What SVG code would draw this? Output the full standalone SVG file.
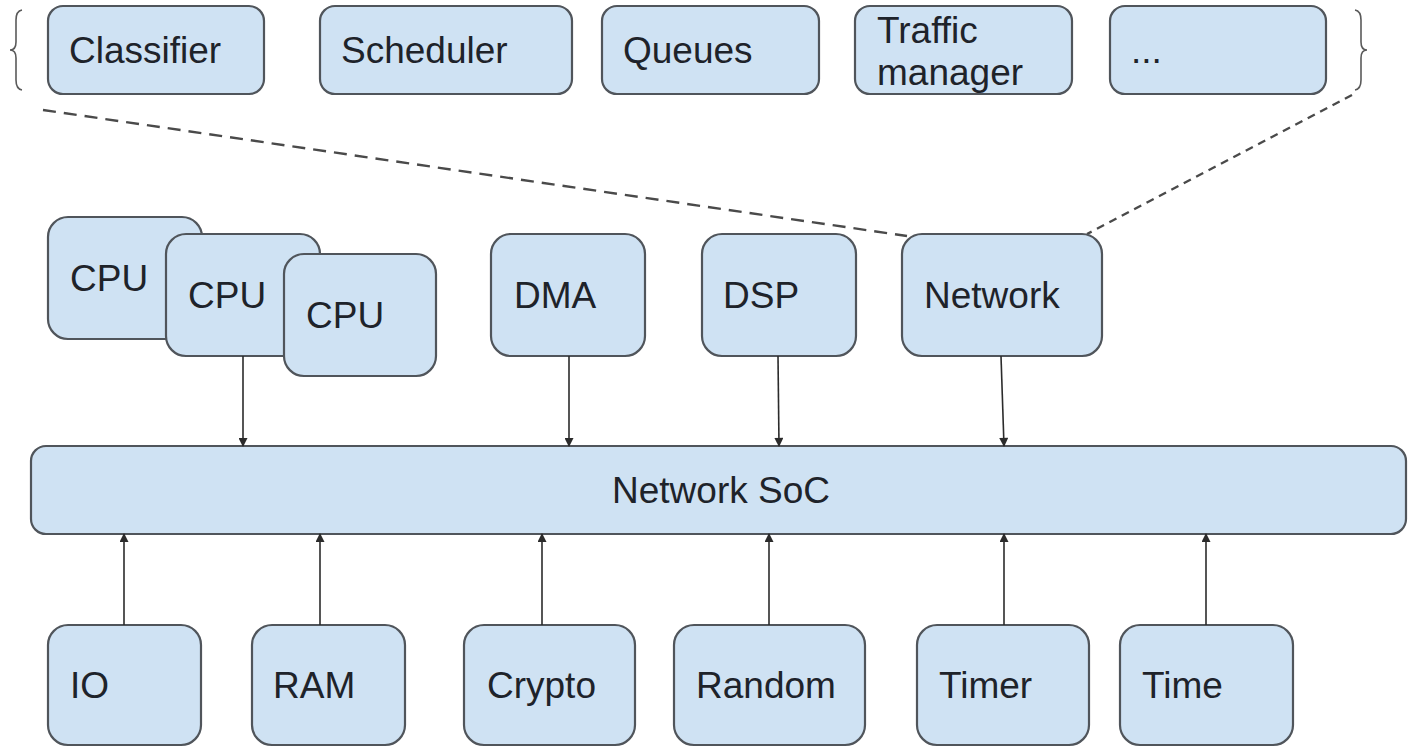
<svg xmlns="http://www.w3.org/2000/svg" width="1408" height="747" viewBox="0 0 1408 747">
  <defs>
    <style>
      .box { fill: #cfe2f3; stroke: #50555b; stroke-width: 2.2; }
      .lbl { font-family: "Liberation Sans", Arial, sans-serif; font-size: 37px; fill: #1e232a; }
      .link { stroke: #2b2b2b; stroke-width: 1.6; fill: none; marker-end: url(#arrow); }
      .dash { stroke: #4a4a4a; stroke-width: 2.4; fill: none; }
      .brace { stroke: #5a5a5a; stroke-width: 1.6; fill: none; }
    </style>
    <marker id="arrow" viewBox="0 0 10 10" refX="9" refY="5" markerWidth="11" markerHeight="9" markerUnits="userSpaceOnUse" orient="auto">
      <path d="M0,0 L10,5 L0,10 z" fill="#2b2b2b"/>
    </marker>
  </defs>

  <rect width="1408" height="747" fill="#ffffff"/>

  <!-- braces grouping the network sub-blocks -->
  <path class="brace" d="M22,10 Q16,11 16,20 L16,42 Q16,50 10,50 Q16,50 16,58 L16,80 Q16,89 22,90"/>
  <path class="brace" d="M1355,10 Q1361,11 1361,20 L1361,42 Q1361,50 1367,50 Q1361,50 1361,58 L1361,80 Q1361,89 1355,90"/>

  <!-- sub-blocks of the network unit -->
  <g id="classifier"><rect class="box" x="48" y="6" width="216" height="88" rx="15"/><text class="lbl" x="69" y="63">Classifier</text></g>
  <g id="scheduler"><rect class="box" x="320" y="6" width="252" height="88" rx="15"/><text class="lbl" x="341" y="63">Scheduler</text></g>
  <g id="queues"><rect class="box" x="602" y="6" width="217" height="88" rx="15"/><text class="lbl" x="623" y="63">Queues</text></g>
  <g id="traffic-manager"><rect class="box" x="855" y="6" width="217" height="88" rx="15"/><text class="lbl" x="877" y="43">Traffic</text><text class="lbl" x="877" y="85">manager</text></g>
  <g id="more"><rect class="box" x="1110" y="6" width="216" height="88" rx="15"/><text class="lbl" x="1131" y="63">...</text></g>

  <!-- dashed lines fanning out from the Network block -->
  <g id="zoom-lines">
    <line class="dash" x1="43" y1="110" x2="907" y2="236" stroke-dasharray="13 8"/>
    <line class="dash" x1="1352" y1="95" x2="1087" y2="234" stroke-dasharray="8 6"/>
  </g>

  <!-- processing units -->
  <g id="cpu1"><rect class="box" x="48" y="217" width="154" height="122" rx="20"/><text class="lbl" x="70" y="291">CPU</text></g>
  <g id="cpu2"><rect class="box" x="166" y="234" width="154" height="122" rx="20"/><text class="lbl" x="188" y="308">CPU</text></g>
  <g id="cpu3"><rect class="box" x="284" y="254" width="152" height="122" rx="20"/><text class="lbl" x="306" y="328">CPU</text></g>
  <g id="dma"><rect class="box" x="491" y="234" width="154" height="122" rx="20"/><text class="lbl" x="514" y="308">DMA</text></g>
  <g id="dsp"><rect class="box" x="702" y="234" width="154" height="122" rx="20"/><text class="lbl" x="723" y="308">DSP</text></g>
  <g id="network"><rect class="box" x="902" y="234" width="200" height="122" rx="20"/><text class="lbl" x="924" y="308">Network</text></g>

  <!-- system on chip bus -->
  <g id="soc"><rect class="box" x="31" y="446" width="1375" height="88" rx="15"/><text class="lbl" x="721" y="503" text-anchor="middle">Network SoC</text></g>

  <!-- peripherals -->
  <g id="io"><rect class="box" x="48" y="625" width="153" height="120" rx="20"/><text class="lbl" x="70" y="698">IO</text></g>
  <g id="ram"><rect class="box" x="252" y="625" width="153" height="120" rx="20"/><text class="lbl" x="273" y="698">RAM</text></g>
  <g id="crypto"><rect class="box" x="464" y="625" width="171" height="120" rx="20"/><text class="lbl" x="487" y="698">Crypto</text></g>
  <g id="random"><rect class="box" x="674" y="625" width="191" height="120" rx="20"/><text class="lbl" x="696" y="698">Random</text></g>
  <g id="timer"><rect class="box" x="917" y="625" width="172" height="120" rx="20"/><text class="lbl" x="939" y="698">Timer</text></g>
  <g id="time"><rect class="box" x="1120" y="625" width="173" height="120" rx="20"/><text class="lbl" x="1142" y="698">Time</text></g>

  <!-- connectors into the SoC -->
  <g id="connectors">
    <line class="link" x1="243" y1="356" x2="243" y2="446"/>
    <line class="link" x1="569" y1="356" x2="569" y2="446"/>
    <line class="link" x1="778" y1="356" x2="779" y2="446"/>
    <line class="link" x1="1001" y1="356" x2="1004" y2="446"/>
    <line class="link" x1="124" y1="625" x2="124" y2="534"/>
    <line class="link" x1="320" y1="625" x2="320" y2="534"/>
    <line class="link" x1="542" y1="625" x2="542" y2="534"/>
    <line class="link" x1="769" y1="625" x2="769" y2="534"/>
    <line class="link" x1="1004" y1="625" x2="1004" y2="534"/>
    <line class="link" x1="1206" y1="625" x2="1206" y2="534"/>
  </g>
</svg>
